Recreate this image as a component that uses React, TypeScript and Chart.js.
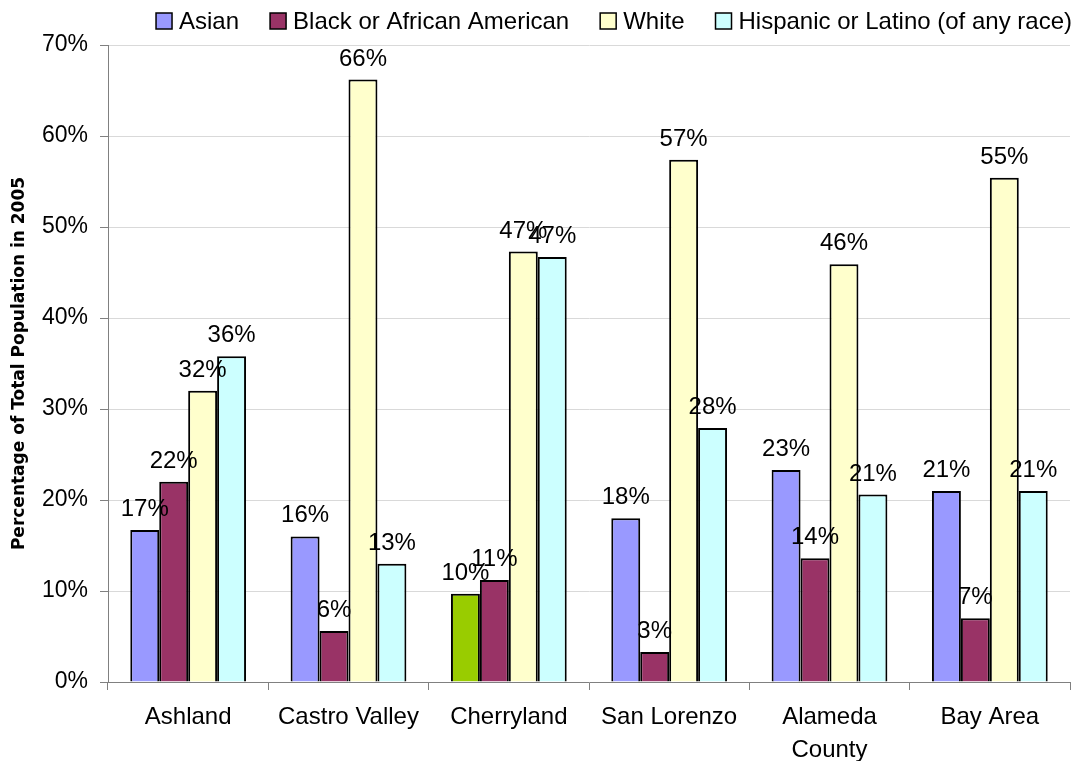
import { useEffect, useRef } from 'react';
import { Chart, registerables } from 'chart.js';

Chart.register(...registerables);

const FONT = 'Liberation Sans';
const TITLE_FONT = 'DejaVu Sans';

const categories: (string | string[])[] = ['Ashland', 'Castro Valley', 'Cherryland', 'San Lorenzo', ['Alameda', 'County'], 'Bay Area'];
const seriesNames = ['Asian', 'Black or African American', 'White', 'Hispanic or Latino (of any race)'];
const asian = [16.7, 16.0, 9.7, 18.0, 23.3, 21.0];
const black = [22.0, 5.6, 11.2, 3.3, 13.6, 7.0];
const white = [32.0, 66.2, 47.3, 57.4, 45.9, 55.4];
const hispanic = [35.8, 13.0, 46.7, 27.9, 20.6, 21.0];
const seriesColors = ['#9999FF', '#993366', '#FFFFCC', '#CCFFFF'];
const asianBarColors = ['#9999FF', '#9999FF', '#99CC00', '#9999FF', '#9999FF', '#9999FF'];
const yMin = 0;
const yMax = 70;
const yStep = 10;
const yTitle = 'Percentage of Total Population in 2005';

const valueLabels = {
  id: 'valueLabels',
  afterDatasetsDraw(chart: any) {
    const ctx = chart.ctx;
    ctx.save();
    ctx.font = `24px "${FONT}"`;
    ctx.fillStyle = '#000';
    ctx.textAlign = 'center';
    ctx.textBaseline = 'alphabetic';
    chart.data.datasets.forEach((ds: any, i: number) => {
      const meta = chart.getDatasetMeta(i);
      meta.data.forEach((el: any, j: number) => {
        const v = ds.data[j];
        ctx.fillText(Math.round(v) + '%', el.x, el.y - 14);
      });
    });
    ctx.restore();
  },
};

const customLegend = {
  id: 'customLegend',
  afterDraw(chart: any) {
    const ctx = chart.ctx;
    ctx.save();
    ctx.font = `24px "${FONT}"`;
    const box = 16;
    const gapText = 7;
    const gapItem = 31;
    const labels: string[] = chart.data.datasets.map((d: any) => d.label);
    const widths = labels.map((t) => box + gapText + ctx.measureText(t).width);
    const total = widths.reduce((a, b) => a + b, 0) + gapItem * (widths.length - 1);
    let x = chart.chartArea.right + 2 - total;
    const boxTop = 13;
    labels.forEach((t, i) => {
      ctx.fillStyle = seriesColors[i];
      ctx.fillRect(x, boxTop, box, box);
      ctx.strokeStyle = '#000';
      ctx.lineWidth = 1.5;
      ctx.strokeRect(x, boxTop, box, box);
      ctx.fillStyle = '#000';
      ctx.textAlign = 'left';
      ctx.textBaseline = 'alphabetic';
      ctx.fillText(t, x + box + gapText, 29);
      x += widths[i] + gapItem;
    });
    ctx.restore();
  },
};

export default function App() {
  const ref = useRef<HTMLCanvasElement>(null);

  useEffect(() => {
    if (!ref.current) return;
    Chart.defaults.font.family = FONT;
    Chart.defaults.color = '#000';
    const chart = new Chart(ref.current, {
      type: 'bar',
      data: {
        labels: categories as any,
        datasets: [
          { label: seriesNames[0], data: asian, backgroundColor: asianBarColors, borderColor: '#000', borderWidth: 2 },
          { label: seriesNames[1], data: black, backgroundColor: seriesColors[1], borderColor: '#000', borderWidth: 2 },
          { label: seriesNames[2], data: white, backgroundColor: seriesColors[2], borderColor: '#000', borderWidth: 2 },
          { label: seriesNames[3], data: hispanic, backgroundColor: seriesColors[3], borderColor: '#000', borderWidth: 2 },
        ],
      },
      options: {
        responsive: false,
        animation: false,
        layout: { padding: { top: 45, right: 5, left: 0, bottom: 0 } },
        datasets: { bar: { barPercentage: 1, categoryPercentage: 0.722 } },
        plugins: {
          legend: { display: false },
          tooltip: { enabled: false },
        },
        scales: {
          x: {
            grid: { display: true, drawOnChartArea: false, drawTicks: true, tickLength: 8, color: '#808080', offset: true },
            border: { color: '#808080', width: 1 },
            ticks: { font: { size: 24, lineHeight: 1.375 }, padding: 11, color: '#000', maxRotation: 0, autoSkip: false },
            afterFit: (s: any) => { s.height = 79; },
          },
          y: {
            min: yMin,
            max: yMax,
            ticks: { stepSize: yStep, callback: (v: any) => v + '%', font: { size: 23 }, padding: 12, color: '#000' },
            grid: { color: '#d9d9d9', tickColor: '#808080', tickLength: 8, drawTicks: true },
            border: { color: '#808080', width: 1 },
            title: { display: true, text: yTitle, font: { family: TITLE_FONT, size: 17, weight: 'bold' }, padding: { top: 9, bottom: 0 }, color: '#000' },
            afterFit: (s: any) => { s.width = 108; },
          },
        },
      },
      plugins: [valueLabels, customLegend],
    });
    return () => chart.destroy();
  }, []);

  return (
    <div style={{ position: 'absolute', left: 0, top: 0, width: 1075, height: 761 }}>
      <canvas ref={ref} width={1075} height={761} style={{ display: 'block', width: 1075, height: 761 }} />
    </div>
  );
}
